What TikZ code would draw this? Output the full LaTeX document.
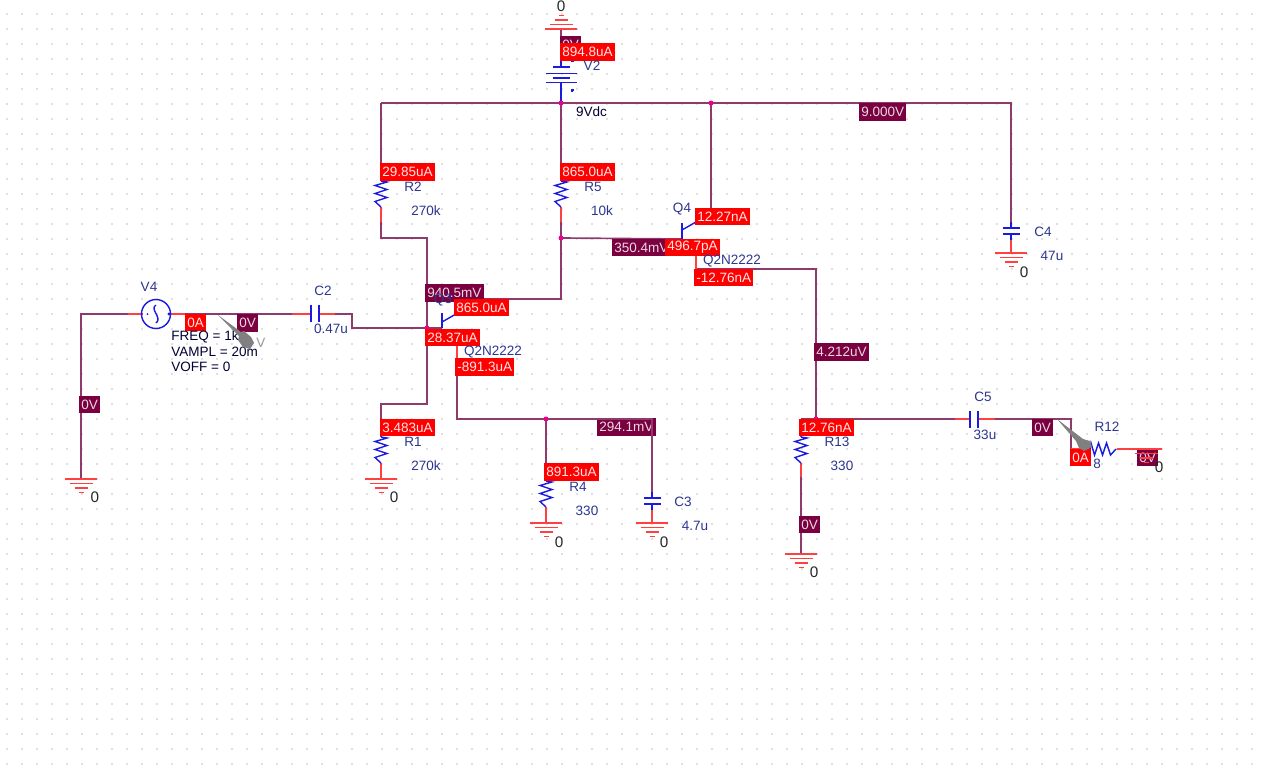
\documentclass[tikz,border=0pt]{standalone}
\usepackage{fontspec}
\setmainfont{Liberation Sans}
\definecolor{wirecol}{HTML}{8E3A6C}
\definecolor{leadcol}{HTML}{FF4040}
\definecolor{partcol}{HTML}{1A1AE0}
\definecolor{namecol}{HTML}{2D3590}
\definecolor{voltcol}{HTML}{7A0040}
\definecolor{dotcol}{HTML}{E0E0E0}
\definecolor{penccol}{HTML}{808080}
\tikzset{
	gndsym/.pic={
		\draw[lead] (-16,0) -- (16,0);
		\draw[lead] (-11.5,4.5) -- (11.5,4.5);
		\draw[lead] (-6.5,9) -- (6.5,9);
		\draw[lead] (-2.5,13.5) -- (2.5,13.5);
	},
	ressym/.pic={
		\draw[part] (0,0) -- (6,1) -- (-6,4.5) -- (6,8.5) -- (-6,12.5) -- (6,16.5) -- (-6,20.5) -- (0,26);
	},
}
\begin{document}
\begin{tikzpicture}[x=0.02cm, y=-0.02cm,
	wire/.style={draw=wirecol, line width=0.95pt},
	lead/.style={draw=leadcol, line width=0.95pt},
	part/.style={draw=partcol, line width=0.8pt},
	volt/.style={fill=voltcol, text=white!85!voltcol, anchor=west, inner xsep=0.04cm, inner ysep=0pt, minimum height=0.35cm, font=\fontsize{7.7}{9}\selectfont},
	amp/.style={fill=red, text=white!90!red, anchor=west, inner xsep=0.04cm, inner ysep=0pt, minimum height=0.35cm, font=\fontsize{7.7}{9}\selectfont},
	partname/.style={text=namecol, inner sep=0pt, font=\fontsize{7.7}{9}\selectfont},
	gndnum/.style={text=black!85, inner sep=0pt, font=\fontsize{8.7}{9}\selectfont},
	param/.style={text=black!80!blue, anchor=west, inner sep=0pt, font=\fontsize{7.7}{9}\selectfont},
	junc/.style={circle, fill=magenta, inner sep=0pt, minimum size=0.1cm},
	pencil/.style={fill=penccol}]
	\useasboundingbox (0,0) rectangle (1261,771);
	\fill[white] (0,0) rectangle (1261,771);
	\foreach \x in {6,21,...,1251}
		\foreach \y in {13,28,...,763}
			\fill[dotcol] (\x,\y) rectangle ++(1.6,1.6);
	% Points
	\coordinate (gndTop) at (561,29);
	\coordinate (v2Minus) at (561,61);
	\coordinate (v2Plus) at (561,83);
	\coordinate (railL) at (381,103);
	\coordinate (railM) at (561,103);
	\coordinate (railQ) at (711,103);
	\coordinate (railR) at (1011,103);
	\coordinate (r2Top) at (381,181);
	\coordinate (r2Bot) at (381,207);
	\coordinate (r2Lead) at (381,222);
	\coordinate (r2Cor) at (381,238);
	\coordinate (baseTop) at (427,238);
	\coordinate (baseJ) at (427,328);
	\coordinate (baseBot) at (427,404);
	\coordinate (r1Cor) at (381,404);
	\coordinate (r1Top) at (381,437);
	\coordinate (r1Bot) at (381,463);
	\coordinate (gndR1) at (381,479);
	\coordinate (r5Top) at (561,181);
	\coordinate (r5Bot) at (561,207);
	\coordinate (r5Lead) at (561,222);
	\coordinate (r5J) at (561,238);
	\coordinate (q3Col) at (561,299);
	\coordinate (q3ColB) at (456,299);
	\coordinate (q3ColC) at (456,314);
	\coordinate (q3Bar) at (442,328);
	\coordinate (q3BarT) at (442,313);
	\coordinate (q3Mid) at (442,322);
	\coordinate (q3Em) at (457,346);
	\coordinate (q3EmB) at (457,358);
	\coordinate (q3EmW) at (457,376);
	\coordinate (q3Cor) at (457,419);
	\coordinate (r4J) at (546,419);
	\coordinate (r4Top) at (546,481);
	\coordinate (r4Bot) at (546,507);
	\coordinate (gndR4) at (546,523);
	\coordinate (c3Cor) at (652,419);
	\coordinate (c3A) at (652,492);
	\coordinate (c3B) at (652,498);
	\coordinate (c3C) at (652,504);
	\coordinate (c3D) at (652,510);
	\coordinate (gndC3) at (652,523);
	\coordinate (c4A) at (1011,222);
	\coordinate (c4B) at (1011,228);
	\coordinate (c4C) at (1011,234);
	\coordinate (c4D) at (1011,240);
	\coordinate (gndC4) at (1011,253);
	\coordinate (q4Bar) at (682,239);
	\coordinate (q4BarT) at (682,223);
	\coordinate (q4Mid) at (682,230);
	\coordinate (q4Col) at (696,222);
	\coordinate (q4ColB) at (696,215);
	\coordinate (q4ColC) at (711,215);
	\coordinate (q4Em) at (696,256);
	\coordinate (q4EmB) at (696,269);
	\coordinate (q4Cor) at (816,269);
	\coordinate (outJ) at (816,419);
	\coordinate (r13Cor) at (801,419);
	\coordinate (r13Top) at (801,437);
	\coordinate (r13Bot) at (801,463);
	\coordinate (r13Lead) at (801,477);
	\coordinate (gndR13) at (801,554);
	\coordinate (c5In) at (955,419);
	\coordinate (c5A) at (970,419);
	\coordinate (c5B) at (978,419);
	\coordinate (c5Out) at (995,419);
	\coordinate (c5Cor) at (1071,419);
	\coordinate (r12Cor) at (1071,449);
	\coordinate (r12L) at (1090,449);
	\coordinate (r12R) at (1117,449);
	\coordinate (r12W) at (1132,449);
	\coordinate (gndR12) at (1146,449);
	\coordinate (gndV4) at (81,479);
	\coordinate (v4Cor) at (81,314);
	\coordinate (v4In) at (128,314);
	\coordinate (v4Out) at (185,314);
	\coordinate (c2In) at (292,314);
	\coordinate (c2A) at (311,314);
	\coordinate (c2B) at (319,314);
	\coordinate (c2Out) at (335,314);
	\coordinate (c2Cor) at (352,314);
	\coordinate (c2Low) at (352,328);
	% Label under its wire
	\node[volt] (v294) at (597,427) {294.1mV};
	% Wires
	\draw[wire] (gndTop) -- (v2Minus);
	\draw[wire] (railL) -- (railR) -- (c4A);
	\draw[wire] (railL) -- (r2Top);
	\draw[wire] (r2Lead) -- (r2Cor) -- (baseTop) -- (baseBot) -- (r1Cor) -- (r1Top);
	\draw[wire] (railM) -- (r5Top);
	\draw[wire] (r5Lead) -- (q3Col) -- (q3ColB);
	\draw[wire] (r5J) -- (q4Bar);
	\draw[wire] (railQ) -- (q4ColC) -- (q4ColB);
	\draw[wire] (q4EmB) -- (q4Cor) -- (outJ);
	\draw[wire] (r13Cor) -- (c5In);
	\draw[wire] (c5Out) -- (c5Cor) -- (r12Cor);
	\draw[wire] (r13Cor) -- (r13Top);
	\draw[wire] (r13Lead) -- (gndR13);
	\draw[wire] (q3EmW) -- (q3Cor) -- (c3Cor) -- (c3A);
	\draw[wire] (r4J) -- (r4Top);
	\draw[wire] (gndV4) -- (v4Cor) -- (v4In);
	\draw[wire] (v4Out) -- (c2In);
	\draw[wire] (c2Out) -- (c2Cor) -- (c2Low) -- (baseJ);
	\draw[wire] (baseJ) -- (q3Bar);
	\draw[wire] (r12W) -- (gndR12);
	% Leads
	\draw[lead] (r2Bot) -- (r2Lead);
	\draw[lead] (r5Bot) -- (r5Lead);
	\draw[lead] (r1Bot) -- (gndR1);
	\draw[lead] (r4Bot) -- (gndR4);
	\draw[lead] (r13Bot) -- (r13Lead);
	\draw[lead] (c3D) -- (gndC3);
	\draw[lead] (c4D) -- (gndC4);
	\draw[lead] (q3Em) -- (q3EmB);
	\draw[lead] (q4Em) -- (q4EmB);
	\draw[lead] (v4In) -- (143,314);
	\draw[lead] (171,314) -- (v4Out);
	\draw[lead] (c2In) -- (c2A);
	\draw[lead] (c2B) -- (c2Out);
	\draw[lead] (c5In) -- (c5A);
	\draw[lead] (c5B) -- (c5Out);
	\draw[lead] (r12R) -- (r12W);
	\draw[lead] (r12Cor) -- (r12L);
	% Parts
	\pic at (r2Top) {ressym};
	\pic at (r5Top) {ressym};
	\pic at (r1Top) {ressym};
	\pic at (r4Top) {ressym};
	\pic at (r13Top) {ressym};
	\pic[rotate=90] at (r12L) {ressym};
	\draw[part] (v2Minus) -- (561,67);
	\draw[part] (553,67) -- (570,67);
	\draw[part] (546,73.5) -- (577,73.5);
	\draw[part] (553,78) -- (570,78);
	\draw[part] (546,82.5) -- (577,82.5);
	\draw[part] (v2Plus) -- (railM);
	\draw[part] (570.5,61) -- (573.5,61);
	\draw[part, line width=0.6pt] (570.5,90) -- (573.5,90) (572,88.5) -- (572,91.5);
	\draw[part] (c3A) -- (c3B) (c3C) -- (c3D);
	\draw[part] (644,498) -- (661,498) (644,504) -- (661,504);
	\draw[part] (c4A) -- (c4B) (c4C) -- (c4D);
	\draw[part] (1003,228) -- (1020,228) (1003,234) -- (1020,234);
	\draw[part] (311,305) -- (311,322) (319,305) -- (319,322);
	\draw[part] (970,411) -- (970,428) (978,411) -- (978,428);
	\draw[part] (q3Bar) -- (q3BarT);
	\draw[part] (q3Mid) -- (q3ColC);
	\draw[part] (q4Bar) -- (q4BarT);
	\draw[part] (q4Mid) -- (q4Col);
	\draw[part] (156,314) circle (14.5);
	\draw[part] (156,305) .. controls (149,309) and (163,318) .. (156,323);
	\fill[partcol] (147.5,314) circle (1);
	\fill[partcol] (169,314) circle (1.6);
	\pic[yscale=-1] at (gndTop) {gndsym};
	\pic at (gndR1) {gndsym};
	\pic at (gndR4) {gndsym};
	\pic at (gndC3) {gndsym};
	\pic at (gndC4) {gndsym};
	\pic at (gndR13) {gndsym};
	\pic at (gndV4) {gndsym};
	% Junctions
	\node[junc] (jRailM) at (railM) {};
	\node[junc] (jRailQ) at (railQ) {};
	\node[junc] (jR5) at (r5J) {};
	\node[junc] (jBase) at (baseJ) {};
	\node[junc] (jR4) at (r4J) {};
	\node[junc] (jOut) at (outJ) {};
	% Voltage labels
	\node[volt] (vTop) at (560,44.5) {0V};
	\node[volt] (v9000) at (859,112) {9.000V};
	\node[volt] (v350) at (612,247.5) {350.4mV};
	\node[volt] (v940) at (425,293) {940.5mV};
	\node[volt] (vIn) at (237,323) {0V};
	\node[volt] (vLeft) at (79,404.5) {0V};
	\node[volt] (v4212) at (814,352) {4.212uV};
	\node[volt] (vR13) at (799,524.5) {0V};
	\node[volt] (vC5) at (1032,427.5) {0V};
	\node[volt] (vR12) at (1137,457.5) {0V};
	\node[partname] (nQ3) at (443,300) {Q3};
	% Current labels
	\node[amp] (i894) at (560,52) {894.8uA};
	\node[amp] (i2985) at (380,172) {29.85uA};
	\node[amp] (i865a) at (560,172) {865.0uA};
	\node[amp] (i1227) at (695,216.5) {12.27nA};
	\node[amp] (i496) at (665,247.5) {496.7pA};
	\node[amp] (i1276m) at (694,277.5) {-12.76nA};
	\node[amp] (i865b) at (454,307.5) {865.0uA};
	\node[amp] (i2837) at (425,337.5) {28.37uA};
	\node[amp] (i891m) at (455,367) {-891.3uA};
	\node[amp] (i3483) at (380,427.5) {3.483uA};
	\node[amp] (i891) at (544,472) {891.3uA};
	\node[amp] (i1276) at (799,427.5) {12.76nA};
	\node[amp] (iV4) at (185,322.5) {0A};
	\node[amp] (iR12) at (1070,457.5) {0A};
	% Texts
	\node[partname] (nV2) at (592,66) {V2};
	\node[partname, text=black!80!blue] (n9Vdc) at (591.5,112) {9Vdc};
	\node[partname] (nR2) at (413,187) {R2};
	\node[partname] (n270a) at (426,211) {270k};
	\node[partname] (nR5) at (593,187) {R5};
	\node[partname] (n10k) at (602,211) {10k};
	\node[partname] (nQ4) at (682,209) {Q4};
	\node[partname] (nQ2a) at (732,261) {Q2N2222};
	\node[partname] (nC4) at (1043,232) {C4};
	\node[partname] (n47u) at (1052,256) {47u};
	\node[partname] (nV4) at (149,287) {V4};
	\node[partname] (nC2) at (323,291) {C2};
	\node[partname] (n047u) at (331,329) {0.47u};
	\node[partname] (nQ2b) at (493,352) {Q2N2222};
	\node[partname] (nR1) at (413,442) {R1};
	\node[partname] (n270b) at (426,466) {270k};
	\node[partname] (nR4) at (578,487) {R4};
	\node[partname] (n330a) at (587,511) {330};
	\node[partname] (nC3) at (683,502) {C3};
	\node[partname] (n47) at (695,526) {4.7u};
	\node[partname] (nR13) at (837,442) {R13};
	\node[partname] (n330b) at (842,466) {330};
	\node[partname] (nC5) at (983,397) {C5};
	\node[partname] (n33u) at (985,435) {33u};
	\node[partname] (nR12) at (1107,427) {R12};
	\node[partname] (n8) at (1097,464) {8};
	\node[param] (pFreq) at (171,337) {FREQ = 1k};
	\node[param] (pVampl) at (171,352) {VAMPL = 20m};
	\node[param] (pVoff) at (171,367) {VOFF = 0};
	\node[gndnum] (z1) at (561,6) {0};
	\node[gndnum] (z2) at (95,497) {0};
	\node[gndnum] (z3) at (394,497) {0};
	\node[gndnum] (z4) at (559,542) {0};
	\node[gndnum] (z5) at (664,542) {0};
	\node[gndnum] (z6) at (1024,272) {0};
	\node[gndnum] (z7) at (814,572) {0};
	\node[gndnum] (z8) at (1159,467) {0};
	% Over the labels
	\pic at (gndR12) {gndsym};
	\node[partname, text=black!40] (nV) at (261,343) {V};
	\fill[pencil] (218,315) -- (241,332) -- (244,331) -- (251,337) -- (254,343) -- (250,349) -- (243,347) -- (238,340) -- (239,336) -- cycle;
	\fill[pencil] (1057,419) -- (1083,439) -- (1090,441) -- (1092,447) -- (1084,451) -- (1079,448) -- (1076,441) -- cycle;
\end{tikzpicture}
\end{document}
